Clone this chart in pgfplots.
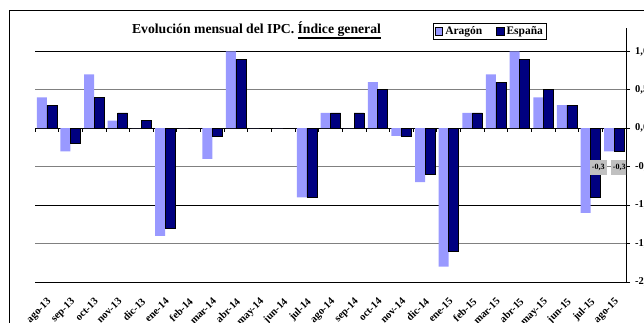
\documentclass[border=0pt]{standalone}
\usepackage{fontspec}
\setmainfont{Liberation Serif}
\usepackage{pgfplots}
\pgfplotsset{compat=1.18}
\definecolor{arag}{HTML}{9999FF}
\definecolor{esp}{HTML}{000080}
\definecolor{lblgray}{HTML}{C0C0C0}
\newcommand\ulthick[1]{\leavevmode\vtop{\hbox{#1}\kern0.9pt\hrule height 1.4pt}}

\pgfplotstableread{
idx aragon espana
0   0.4  0.3
1  -0.3 -0.2
2   0.7  0.4
3   0.1  0.2
4   0.0  0.1
5  -1.4 -1.3
6   0.0  0.0
7  -0.4 -0.1
8   1.0  0.9
9   0.0  0.0
10  0.0  0.0
11 -0.9 -0.9
12  0.2  0.2
13  0.0  0.2
14  0.6  0.5
15 -0.1 -0.1
16 -0.7 -0.6
17 -1.8 -1.6
18  0.2  0.2
19  0.7  0.6
20  1.0  0.9
21  0.4  0.5
22  0.3  0.3
23 -1.1 -0.9
24 -0.3 -0.3
}\datatable

\begin{document}
\begin{tikzpicture}
\begin{axis}[
  at={(35pt,41pt)}, anchor=south west,
  scale only axis, width=591pt, height=253.7pt,
  xmin=-0.5, xmax=24.5, ymin=-2, ymax=1.3,
  ybar=0pt, bar width=10pt,
  axis y line*=right, axis x line*=bottom,
  x axis line style={draw=none},
  y axis line style={black, line width=0.8pt, -},
  xtick={0,...,24},
  xticklabels={ago-13,sep-13,oct-13,nov-13,dic-13,ene-14,feb-14,mar-14,abr-14,may-14,jun-14,jul-14,ago-14,sep-14,oct-14,nov-14,dic-14,ene-15,feb-15,mar-15,abr-15,may-15,jun-15,jul-15,ago-15},
  x tick style={draw=none},
  xticklabel style={rotate=45, anchor=north east, inner sep=1pt, xshift=-7pt, yshift=-6.5pt,
    font=\fontsize{10.5}{11}\selectfont\bfseries},
  ytick={-2,-1,0,1},
  yticklabels={{-2,0},{-1,0},{0,0},{1,0}},
  extra y ticks={-1.5,-0.5,0.5},
  extra y tick labels={{-1,5},{-0,5},{0,5}},
  ymajorgrids,
  major grid style={black, line width=0.8pt},
  extra y tick style={major grid style={gray, line width=0.8pt}},
  tick align=outside, major tick length=4pt,
  y tick style={black, line width=0.8pt},
  yticklabel style={font=\fontsize{10.5}{11}\selectfont\bfseries, inner sep=0pt, xshift=5pt},
  legend style={at={(axis description cs:0.6734,1.022)}, anchor=north west,
    draw=black, line width=0.8pt, fill=white, legend columns=2,
    font=\fontsize{11.5}{12}\selectfont\bfseries, inner sep=1.5pt,
    /tikz/every even column/.append style={column sep=12pt}},
  legend image code/.code={\draw[#1] (0pt,-3.8pt) rectangle (7.6pt,3.8pt);},
]
\addplot[draw=none, fill=arag] table[x=idx, y=aragon]{\datatable};
\addplot[draw=black, line width=0.6pt, fill=esp] table[x=idx, y=espana]{\datatable};
\legend{Aragón,España}
\pgfplotsinvokeforeach{-0.5,0.5,...,24.5}{
  \draw[black, line width=0.8pt] (axis cs:#1,0) -- ([yshift=-4pt]axis cs:#1,0);
}
\node[fill=lblgray, inner sep=1pt, minimum width=17pt, minimum height=15pt,
  font=\fontsize{8}{9}\selectfont\bfseries] at ([xshift=-16pt]axis cs:24,-0.51) {-0,3};
\node[fill=lblgray, inner sep=1pt, minimum width=16pt, minimum height=15pt,
  font=\fontsize{8}{9}\selectfont\bfseries] at ([xshift=5pt]axis cs:24,-0.51) {-0,3};
\end{axis}
\node[font=\fontsize{13.7}{15}\selectfont\bfseries] at (256.5pt,293pt)
  {Evolución mensual del IPC. \ulthick{Índice general}};
\draw[black, line width=1pt] (9.3pt,-10pt) -- (9.3pt,312.3pt) -- (660pt,312.3pt);
\pgfresetboundingbox
\path[use as bounding box] (0pt,0pt) rectangle (644pt,323pt);
\end{tikzpicture}
\end{document}
